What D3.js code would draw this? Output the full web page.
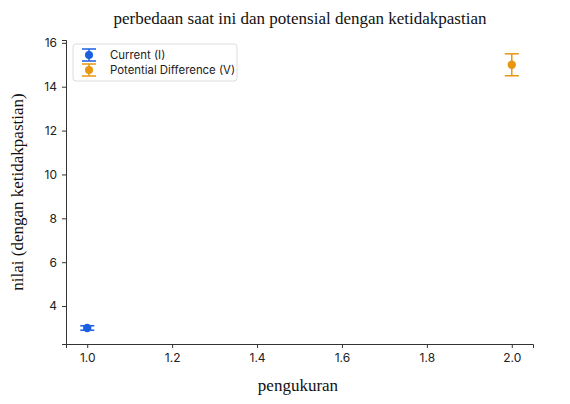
<!DOCTYPE html>
<html><head><meta charset="utf-8">
<script src="https://cdn.jsdelivr.net/npm/d3@7"></script>
<style>body{margin:0;background:#fff;}</style>
</head><body>
<svg id="c" width="570" height="404"></svg>
<script>
const seriesNames = ["Current (I)", "Potential Difference (V)"];
const xValues = [1, 2];
const yValues = [3, 15];
const yErrors = [0.1, 0.5];
const colors = ["#1a5fe0", "#e8960f"];
const xTicks = [1.0, 1.2, 1.4, 1.6, 1.8, 2.0];
const yTicks = [4, 6, 8, 10, 12, 14, 16];
const title = "perbedaan saat ini dan potensial dengan ketidakpastian";
const xLabel = "pengukuran";
const yLabel = "nilai (dengan ketidakpastian)";

const svg = d3.select("#c");
const mLeft = 66, mRight = 533, mTop = 40, mBottom = 344;
const x = d3.scaleLinear().domain([0.95, 2.05]).range([mLeft, mRight]);
const y = d3.scaleLinear().domain([2.27, 16.13]).range([mBottom, mTop]);
const tickFont = "Inter, 'Noto Sans', sans-serif";
const serif = "'Liberation Serif', 'Times New Roman', serif";

const xa = svg.append("g").attr("transform", `translate(0,${mBottom})`)
  .call(d3.axisBottom(x).tickValues(xTicks).tickFormat(d3.format(".1f")).tickSizeOuter(0).tickSize(4).tickPadding(5));
const ya = svg.append("g").attr("transform", `translate(${mLeft},0)`)
  .call(d3.axisLeft(y).tickValues(yTicks).tickFormat(d3.format("d")).tickSizeOuter(0).tickSize(4).tickPadding(5));
[xa, ya].forEach(a => {
  a.selectAll("text").attr("font-family", tickFont).attr("font-size", 12).attr("fill", "#222");
  a.selectAll("line").attr("stroke", "#333");
  a.select(".domain").attr("stroke", "#333");
});

xValues.forEach((xv, i) => {
  const g = svg.append("g");
  const cx = x(xv), c = colors[i];
  const y1 = y(yValues[i] + yErrors[i]), y2 = y(yValues[i] - yErrors[i]);
  g.append("line").attr("x1", cx).attr("x2", cx).attr("y1", y1).attr("y2", y2).attr("stroke", c).attr("stroke-width", 1.5);
  [y1, y2].forEach(yy => g.append("line").attr("x1", cx - 7).attr("x2", cx + 7).attr("y1", yy).attr("y2", yy).attr("stroke", c).attr("stroke-width", 1.5));
  g.append("circle").attr("cx", cx).attr("cy", y(yValues[i])).attr("r", 4.2).attr("fill", c);
});

// legend
const lg = svg.append("g").attr("transform", "translate(73,44)");
lg.append("rect").attr("width", 164).attr("height", 37).attr("rx", 3)
  .attr("fill", "#fff").attr("stroke", "#ddd").attr("stroke-width", 1);
seriesNames.forEach((n, i) => {
  const yy = 11 + i * 15, cx = 16, c = colors[i];
  lg.append("line").attr("x1", cx).attr("x2", cx).attr("y1", yy - 6).attr("y2", yy + 6).attr("stroke", c).attr("stroke-width", 1.5);
  [yy - 6, yy + 6].forEach(v => lg.append("line").attr("x1", cx - 7).attr("x2", cx + 7).attr("y1", v).attr("y2", v).attr("stroke", c).attr("stroke-width", 1.5));
  lg.append("circle").attr("cx", cx).attr("cy", yy).attr("r", 4).attr("fill", c);
  lg.append("text").attr("x", 37).attr("y", yy + 4).text(n)
    .attr("font-family", tickFont).attr("font-size", 11.4).attr("fill", "#222");
});

svg.append("text").attr("x", 300).attr("y", 24).attr("text-anchor", "middle")
  .attr("font-family", serif).attr("font-size", 17).attr("fill", "#111").text(title);
svg.append("text").attr("x", 298).attr("y", 391).attr("text-anchor", "middle")
  .attr("font-family", serif).attr("font-size", 17).attr("fill", "#111").text(xLabel);
svg.append("text").attr("transform", `translate(23,${(mTop + mBottom) / 2}) rotate(-90)`).attr("text-anchor", "middle")
  .attr("font-family", serif).attr("font-size", 17).attr("fill", "#111").text(yLabel);
</script>
</body></html>
